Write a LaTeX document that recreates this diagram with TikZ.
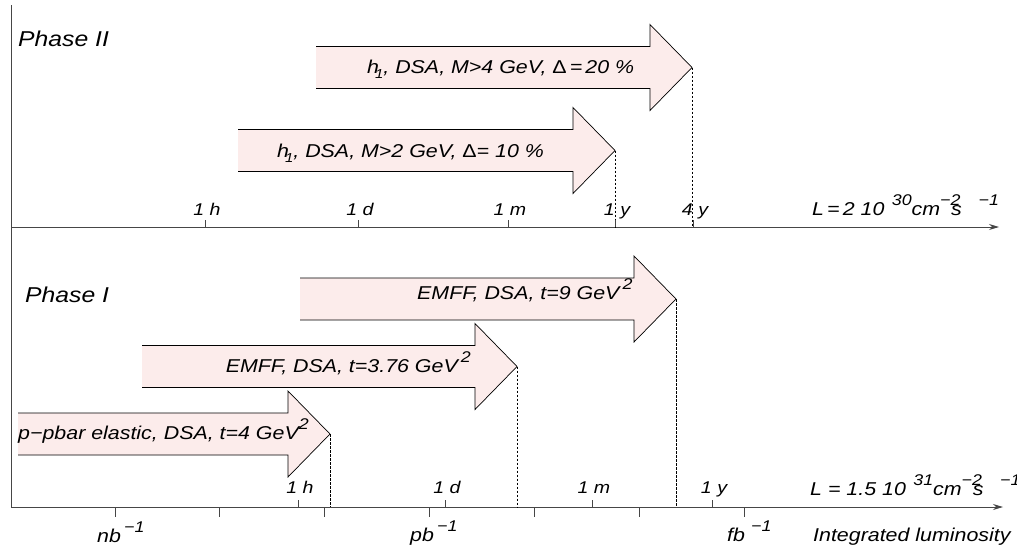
\documentclass[tikz,border=0pt]{standalone}
\usepackage{fontspec}
\setmainfont{Liberation Sans}[FakeStretch=1.15]
\usetikzlibrary{arrows.meta}
\newcommand\sups[1]{\raisebox{0.5em}{\fontsize{15.5}{15.5}\selectfont #1}}
\newcommand\hone{h\kern-4pt\raisebox{-0.3em}{\fontsize{13}{13}\selectfont 1}}
\definecolor{apink}{RGB}{252,236,235}
\definecolor{axgray}{RGB}{70,70,70}
\newcommand\bigarrow[5]{%
  \fill[apink] (#2,#5-21) -- (#3,#5-21) -- (#3,#5-43) -- (#4,#5) -- (#3,#5+43) -- (#3,#5+21) -- (#2,#5+21) -- cycle;
  \draw[arrowline] (#2,#5-21) -- (#3,#5-21) -- (#3,#5-43) -- (#4,#5) -- (#3,#5+43) -- (#3,#5+21) -- (#2,#5+21);
  \coordinate (#1) at (#4,#5);}
\begin{document}
\begin{tikzpicture}[x=1pt,y=-1pt,
  arrowline/.style={black,line width=0.7pt,line join=miter},
  axis/.style={axgray,line width=0.9pt},
  axarrow/.style={axis,-{Stealth[length=10pt,width=6pt]}},
  tick/.style={axgray,line width=0.8pt},
  guide/.style={black,line width=0.6pt,dash pattern=on 2.5pt off 1.5pt},
  lbl/.style={font=\fontsize{18.6}{20}\selectfont\itshape,inner sep=0pt},
  tlbl/.style={font=\fontsize{17}{19}\selectfont\itshape,inner sep=0pt,anchor=base},
  phase/.style={font=\fontsize{21.5}{24}\selectfont\itshape,inner sep=0pt,anchor=base west}]
\useasboundingbox (0,0) rectangle (1017,550);
% axes
\coordinate (vtop) at (11,5);
\coordinate (vbot) at (11,507);
\coordinate (tstart) at (11,227);
\coordinate (tend) at (999,227);
\coordinate (bstart) at (11,507);
\coordinate (bend) at (1003,507);
\draw[axis] (vtop) -- (vbot);
\draw[axarrow] (tstart) -- (tend);
\draw[axarrow] (bstart) -- (bend);
% phase labels
\node[phase] (p2) at (18,46) {Phase II};
\node[phase] (p1) at (25,302) {Phase I};
% Phase II arrows
\bigarrow{tipA}{316}{650}{692}{67.5}
\bigarrow{tipB}{238}{573}{615}{150.5}
\node[lbl,anchor=base west] (tA) at (367,73) {\hone, DSA, M>4 GeV, {\upshape Δ}\,=\,20 \%};
\node[lbl,anchor=base west] (tB) at (277,157) {\hone, DSA, M>2 GeV, {\upshape Δ}= 10 \%};
\draw[guide] (tipA) -- (tipA |- tstart);
\draw[guide] (tipB) -- (tipB |- tstart);
% top ticks
\foreach \x/\t/\lx in {205/1 h/207,358/1 d/360,508/1 m/510,615/1 y/617,693/4 y/695}{
  \draw[tick] (\x,227) -- (\x,220);
  \node[tlbl] at (\lx,215) {\t};}
\node[lbl,anchor=base west] (LT) at (812,215) {L\,=\,2 10\hspace{0.4em}\sups{30}cm\sups{−2}\kern-0.5em s\hspace{0.9em}\sups{−1}};
% Phase I arrows
\bigarrow{tipE}{300}{634}{676}{299}
\bigarrow{tipD}{142}{475}{517}{366.5}
\bigarrow{tipC}{18}{288}{330}{434}
\node[lbl,anchor=base west] (tE) at (417,299) {EMFF, DSA, t=9 GeV\,\sups{2}};
\node[lbl,anchor=base east] (tD) at (471,372) {EMFF, DSA, t=3.76 GeV\,\sups{2}};
\node[lbl,anchor=base west] (tC) at (18,439) {p−pbar elastic, DSA, t=4 GeV\sups{2}};
\draw[guide] (tipC) -- (tipC |- bstart);
\draw[guide] (tipD) -- (tipD |- bstart);
\draw[guide] (tipE) -- (tipE |- bstart);
% bottom time ticks
\foreach \x/\t/\lx in {298/1 h/300,445/1 d/447,592/1 m/594,712/1 y/714}{
  \draw[tick] (\x,507) -- (\x,500);
  \node[tlbl] at (\lx,493) {\t};}
% luminosity ticks
\foreach \x in {115,219,324,429,534,639,744}{
  \draw[tick] (\x,507) -- (\x,517);}
\node[lbl,anchor=base west] (nb) at (97,542) {nb\,\sups{−1}};
\node[lbl,anchor=base west] (pb) at (410,541) {pb\,\sups{−1}};
\node[lbl,anchor=base west] (fb) at (727,541) {fb\,\,\sups{−1}};
\node[lbl,anchor=base west] (il) at (813,541) {Integrated luminosity};
\node[lbl,anchor=base west] (LB) at (810,495) {L = 1.5 10\hspace{0.4em}\sups{31}cm\sups{−2}\kern-0.5em s\hspace{0.9em}\sups{−1}};
\end{tikzpicture}
\end{document}
